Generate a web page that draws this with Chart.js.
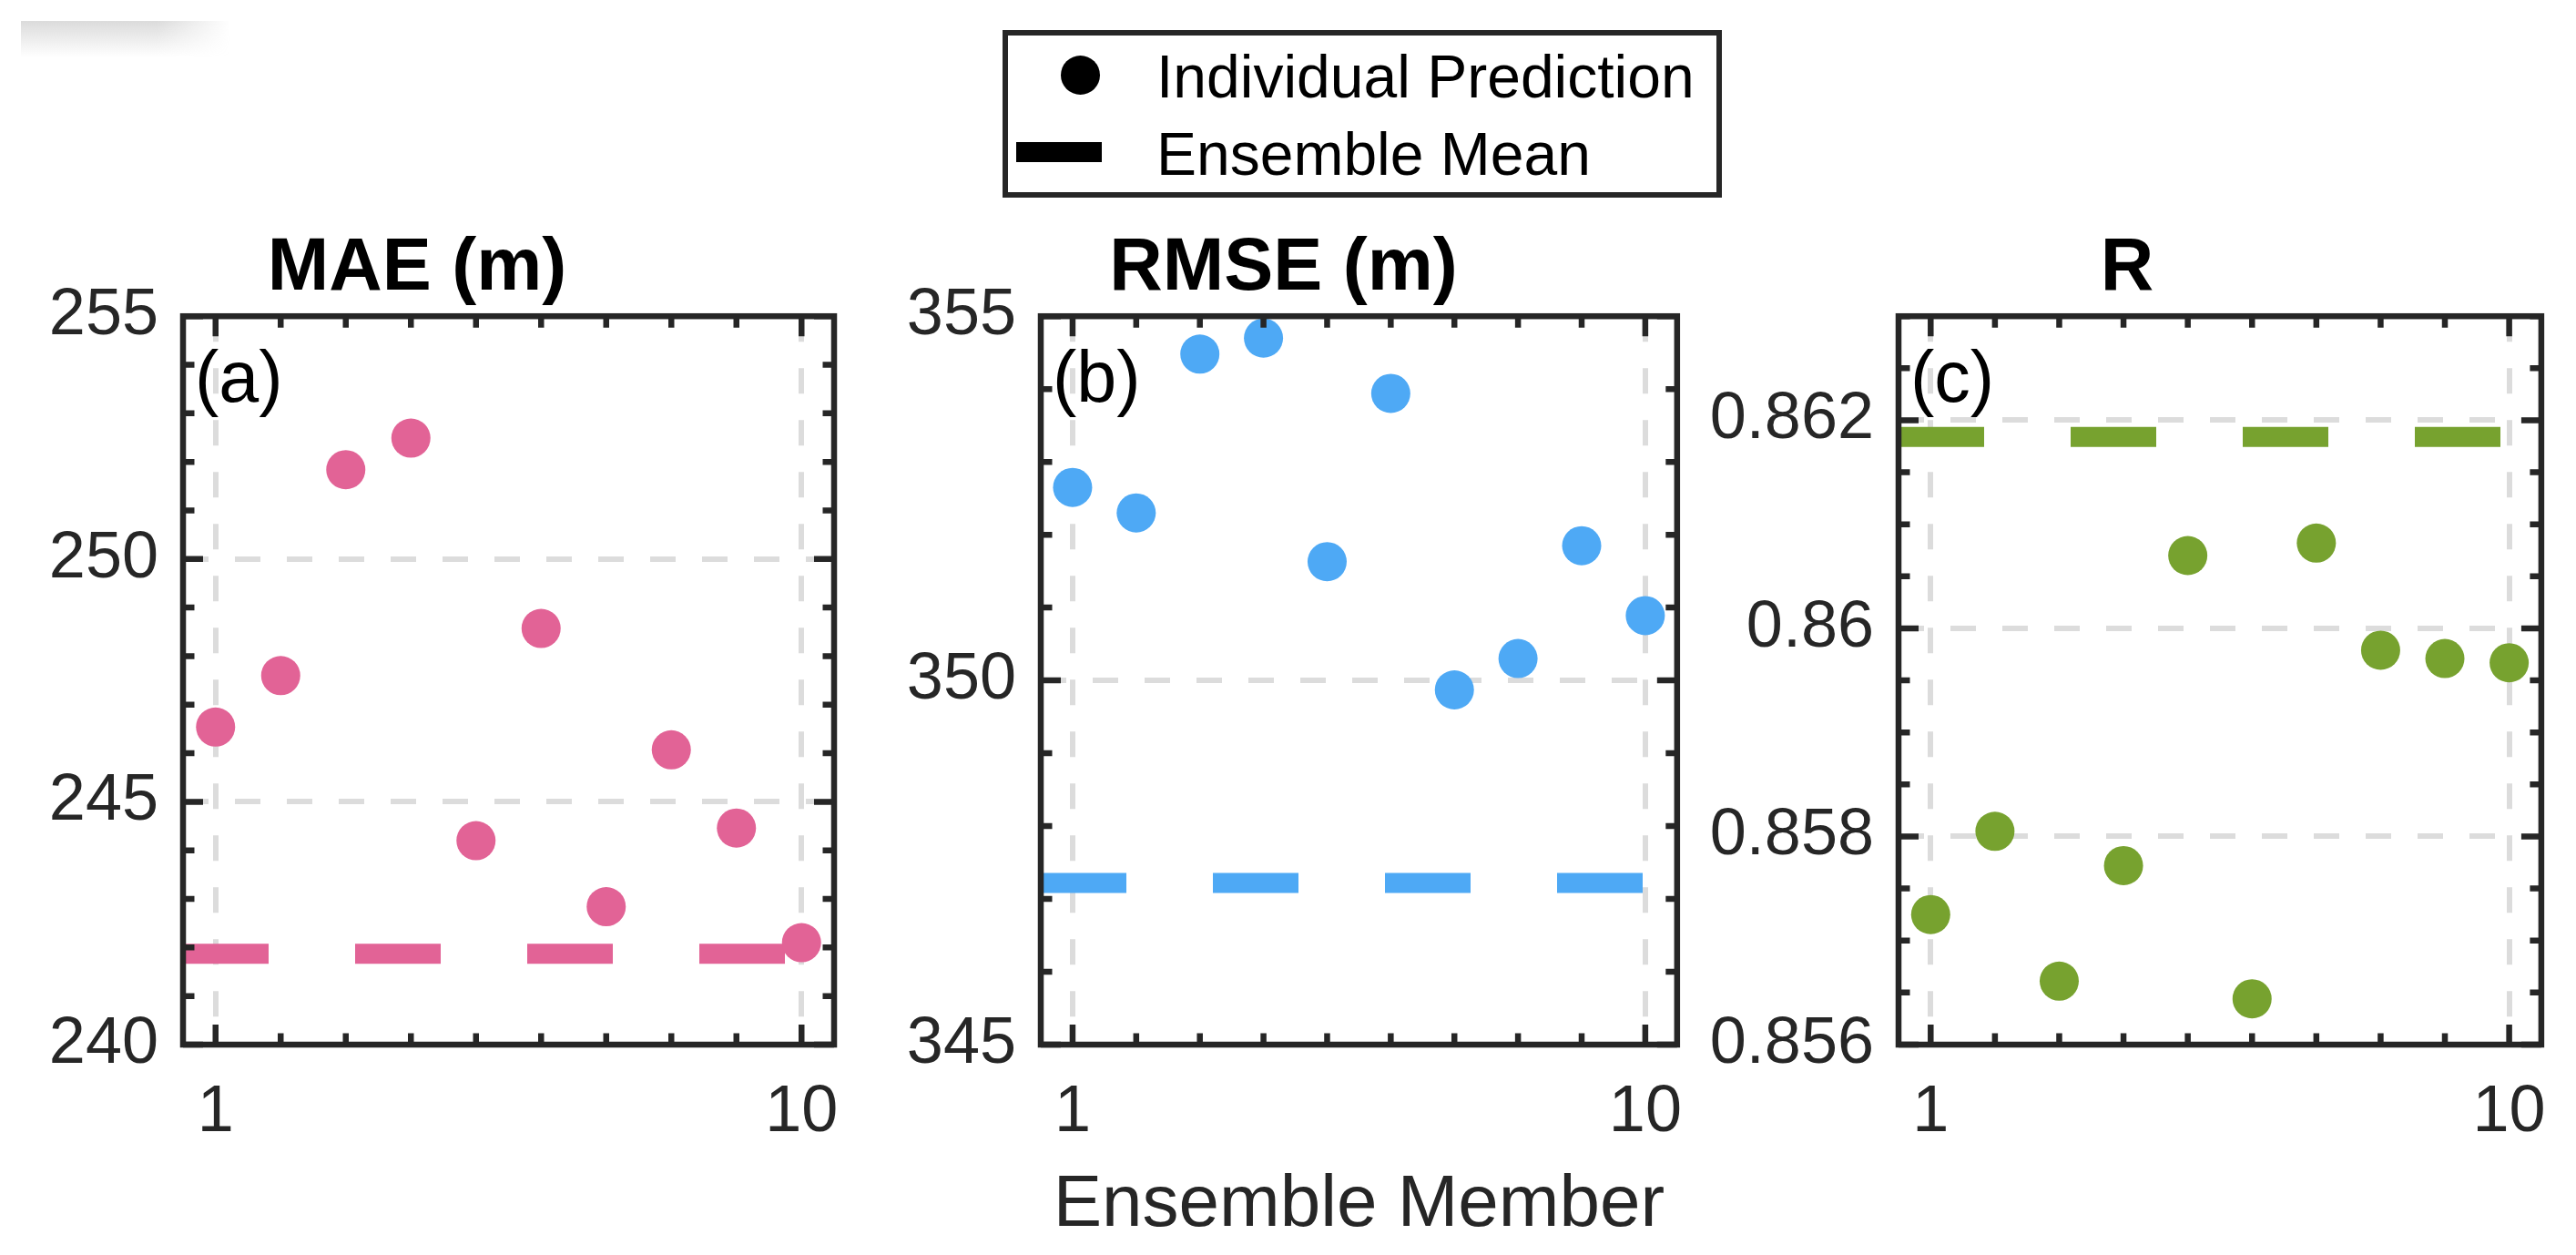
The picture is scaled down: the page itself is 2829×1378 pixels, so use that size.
<!DOCTYPE html>
<html>
<head>
<meta charset="utf-8">
<script src="https://cdn.jsdelivr.net/npm/chart.js@4"></script>
<style>
  body { margin: 0; background: #fff; width: 2829px; height: 1378px; position: relative; overflow: hidden;
         font-family: "Liberation Sans", Arial, Helvetica, sans-serif; }
  canvas { position: absolute; top: 0; }
  .smudge { position: absolute; left: 23px; top: 23px; width: 230px; height: 40px;
            background: linear-gradient(to bottom, rgba(190,190,190,0.55), rgba(255,255,255,0));
            -webkit-mask-image: linear-gradient(to right, #000 65%, transparent);
            mask-image: linear-gradient(to right, #000 65%, transparent); }
  .legend { position: absolute; left: 1101px; top: 33px; width: 790px; height: 184px;
            box-sizing: border-box; border: 6px solid #262626; background: #fff; }
  .legend .dot { position: absolute; left: 1165px; top: 61px; width: 43px; height: 43px; border-radius: 50%; background: #000; }
  .legend .bar { position: absolute; left: 1116px; top: 156px; width: 94px; height: 22px; background: #000; }
  .lg-text { position: absolute; font-size: 66px; line-height: 66px; color: #000; white-space: nowrap; }
</style>
</head>
<body>
<div class="smudge"></div>
<div class="legend"></div>
<div class="legend-items">
  <div class="legend dot" style="border:none;width:43px;height:43px;left:1165px;top:61px;border-radius:50%;background:#000;"></div>
  <div class="legend bar" style="border:none;width:94px;height:22px;left:1116px;top:156px;background:#000;"></div>
  <div class="lg-text" style="left:1270px;top:51px;">Individual Prediction</div>
  <div class="lg-text" style="left:1270px;top:136px;">Ensemble Mean</div>
</div>
<canvas id="chart-a" width="960" height="1378" style="left:0px"></canvas>
<canvas id="chart-b" width="920" height="1378" style="left:960px"></canvas>
<canvas id="chart-c" width="959" height="1378" style="left:1870px"></canvas>

<script>
// ---- data ----
var members = [1, 2, 3, 4, 5, 6, 7, 8, 9, 10];
var xLimits = [0.5, 10.5];
var xTickLabels = [1, 10];

var maeValues = [246.54, 247.60, 251.84, 252.49, 244.20, 248.57, 242.84, 246.07, 244.46, 242.10];
var maeMean = 241.87;
var maeLimits = [240, 255];
var maeTicks = [240, 245, 250, 255];

var rmseValues = [352.65, 352.30, 354.48, 354.70, 351.63, 353.94, 349.87, 350.30, 351.85, 350.89];
var rmseMean = 347.22;
var rmseLimits = [345, 355];
var rmseTicks = [345, 350, 355];

var rValues = [0.85725, 0.85805, 0.85661, 0.85772, 0.86070, 0.85644, 0.86082, 0.85979, 0.85971, 0.85967];
var rMean = 0.86184;
var rLimits = [0.856, 0.863];
var rTicks = [0.856, 0.858, 0.86, 0.862];

var FONT = '"Liberation Sans", Arial, Helvetica, sans-serif';
var AXIS = '#262626';
Chart.defaults.font.family = FONT;

// box, inward ticks on all four sides and the panel tag, MATLAB style
var frameTicks = {
	id: 'frameTicks',
	afterDatasetsDraw: function (chart, args, o) {
		var ctx = chart.ctx, a = chart.chartArea, xs = chart.scales.x, ys = chart.scales.y;
		ctx.save();
		ctx.strokeStyle = AXIS;
		ctx.lineWidth = 6.5;
		ctx.lineCap = 'butt';
		ctx.beginPath();
		var n = Math.round((o.yMax - o.yMin) / o.yStep);
		for (var i = 0; i <= n; i++) {
			var v = o.yMin + i * o.yStep;
			var major = o.yMajor.some(function (m) { return Math.abs(m - v) < o.yStep / 10; });
			var len = major ? 22 : 12.5;
			var py = ys.getPixelForValue(v);
			ctx.moveTo(a.left, py); ctx.lineTo(a.left + len, py);
			ctx.moveTo(a.right, py); ctx.lineTo(a.right - len, py);
		}
		for (var j = 0; j < members.length; j++) {
			var xv = members[j];
			var lenx = xTickLabels.indexOf(xv) >= 0 ? 22 : 12.5;
			var px = xs.getPixelForValue(xv);
			ctx.moveTo(px, a.bottom); ctx.lineTo(px, a.bottom - lenx);
			ctx.moveTo(px, a.top); ctx.lineTo(px, a.top + lenx);
		}
		ctx.stroke();
		ctx.lineJoin = 'miter';
		ctx.strokeRect(a.left, a.top, a.right - a.left, a.bottom - a.top);
		ctx.fillStyle = '#000';
		ctx.font = '79px ' + FONT;
		ctx.textAlign = 'left';
		ctx.textBaseline = 'alphabetic';
		ctx.fillText(o.tag, a.left + 13, a.top + 94);
		ctx.restore();
	}
};

function makePanel(canvasId, opt) {
	var points = members.map(function (m, i) { return { x: m, y: opt.values[i] }; });
	var meanLine = [{ x: xLimits[0], y: opt.mean }, { x: xLimits[1], y: opt.mean }];

	new Chart(document.getElementById(canvasId), {
		type: 'scatter',
		data: {
			datasets: [
				{
					label: 'Individual Prediction',
					data: points,
					backgroundColor: opt.color,
					borderWidth: 0,
					pointRadius: 21.5,
					pointHoverRadius: 21.5,
					clip: false,
					order: 0
				},
				{
					label: 'Ensemble Mean',
					data: meanLine,
					showLine: true,
					borderColor: opt.color,
					borderWidth: 22,
					borderDash: [94, 95],
					pointRadius: 0,
					order: 1
				}
			]
		},
		plugins: [frameTicks],
		options: {
			responsive: false,
			animation: false,
			layout: { padding: { top: 247, left: 0, right: opt.padRight, bottom: 0 } },
			plugins: {
				legend: { display: false },
				tooltip: { enabled: false },
				title: {
					display: true,
					text: opt.title,
					color: '#000',
					font: { size: 81, weight: 'bold' },
					padding: { top: 0, bottom: 3 }
				},
				frameTicks: {
					yMin: opt.limits[0], yMax: opt.limits[1], yStep: opt.minorStep,
					yMajor: opt.ticks, tag: opt.tag
				}
			},
			scales: {
				x: {
					type: 'linear',
					min: xLimits[0],
					max: xLimits[1],
					afterBuildTicks: function (axis) {
						axis.ticks = xTickLabels.map(function (v) { return { value: v }; });
					},
					afterFit: function (axis) { axis.height = 231; },
					ticks: {
						color: AXIS,
						font: { size: 72 },
						padding: 32,
						maxRotation: 0,
						autoSkip: false,
						callback: function (v) { return String(v); }
					},
					grid: { color: '#DCDCDC', lineWidth: 6, drawTicks: false },
					border: { display: false, dash: [28, 29] },
					title: {
						display: !!opt.xTitle,
						text: opt.xTitle || '',
						color: AXIS,
						font: { size: 80 },
						padding: { top: 0, bottom: 6 }
					}
				},
				y: {
					type: 'linear',
					min: opt.limits[0],
					max: opt.limits[1],
					afterBuildTicks: function (axis) {
						axis.ticks = opt.ticks.map(function (v) { return { value: v }; });
					},
					afterFit: function (axis) { axis.width = opt.areaLeft; },
					ticks: {
						color: AXIS,
						font: { size: 72 },
						padding: 27,
						autoSkip: false,
						callback: function (v) { return String(Number(Number(v).toFixed(4))); }
					},
					grid: { color: '#DCDCDC', lineWidth: 6, drawTicks: false },
					border: { display: false, dash: [28, 29] }
				}
			}
		}
	});
}

makePanel('chart-a', {
	values: maeValues, mean: maeMean, limits: maeLimits, ticks: maeTicks, minorStep: 1,
	color: '#E26396', title: 'MAE (m)', tag: '(a)', areaLeft: 201, padRight: 44
});
makePanel('chart-b', {
	values: rmseValues, mean: rmseMean, limits: rmseLimits, ticks: rmseTicks, minorStep: 1,
	color: '#4EA9F5', title: 'RMSE (m)', tag: '(b)', areaLeft: 183, padRight: 21,
	xTitle: 'Ensemble Member'
});
makePanel('chart-c', {
	values: rValues, mean: rMean, limits: rLimits, ticks: rTicks, minorStep: 0.0005,
	color: '#77A22F', title: 'R', tag: '(c)', areaLeft: 215, padRight: 27
});
</script>
</body>
</html>
